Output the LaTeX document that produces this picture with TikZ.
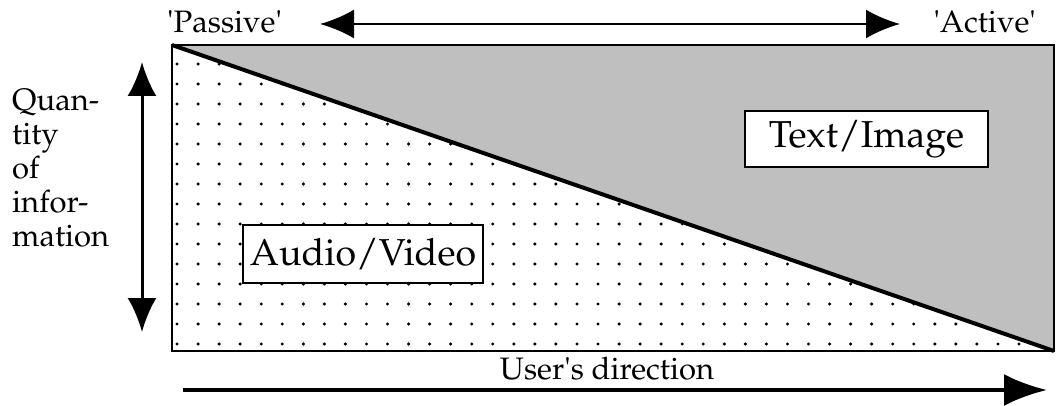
\documentclass[tikz,border=0pt]{standalone}
\usepackage[T1]{fontenc}
\renewcommand{\rmdefault}{ppl}
\usetikzlibrary{arrows.meta}
\tikzset{
  lbl/.style={font=\fontsize{31}{34}\selectfont, inner sep=0pt},
  tag/.style={draw, line width=2pt, fill=white, inner sep=0pt,
              font=\fontsize{37.5}{44}\selectfont},
  twoway/.style={line width=2.5pt,
    {Latex[length=34pt,width=29pt]}-{Latex[length=34pt,width=29pt]}},
  dotgrid/.style={fill=black},
}
\begin{document}
\begin{tikzpicture}[x=1pt,y=-1pt]
\useasboundingbox (0,0) rectangle (1056,406);

% frame corners
\coordinate (tl) at (172,45);
\coordinate (tr) at (1054,45);
\coordinate (br) at (1054,351);
\coordinate (bl) at (172,351);

% dotted field (covered by the shaded half further down)
\foreach \j in {0,...,14}
  \foreach \k in {0,...,41}
    \fill[dotgrid] ({177+21.05*\k},{64+20*\j}) circle (1.7pt);

% shaded upper-right half
\fill[black!25] (tl) -- (tr) -- (br) -- cycle;
\draw[line width=2.5pt] (tl) rectangle (br);
\draw[line width=4pt] (tl) -- (br);

% labelled boxes
\node[tag, minimum width=243pt, minimum height=56pt] (ti) at (866.5,139) {Text/Image};
\node[tag, minimum width=240pt, minimum height=58pt] (av) at (363,254) {Audio/Video};

% top scale
\node[lbl, anchor=base west] (pas) at (167,33) {\textquotesingle Passive\textquotesingle};
\node[lbl, anchor=base east] (act) at (1036,33) {\textquotesingle Active\textquotesingle};
\coordinate (al) at (320,24);
\coordinate (ar) at (900,24);
\draw[twoway] (al) -- (ar);

% left scale
\node[lbl, anchor=west, align=left] (qty) at (12,168) {Quan-\\tity\\of\\infor-\\mation};
\coordinate (qt) at (142,62);
\coordinate (qb) at (142,332);
\draw[line width=3pt, {Latex[length=34pt,width=29pt]}-{Latex[length=34pt,width=29pt]}] (qt) -- (qb);

% bottom direction arrow
\node[lbl, anchor=base] (usr) at (607,379) {User\textquotesingle s direction};
\coordinate (ds) at (183,390);
\coordinate (de) at (1047,390);
\draw[line width=4pt, -{Latex[length=43pt,width=32pt]}] (ds) -- (de);
\end{tikzpicture}
\end{document}
